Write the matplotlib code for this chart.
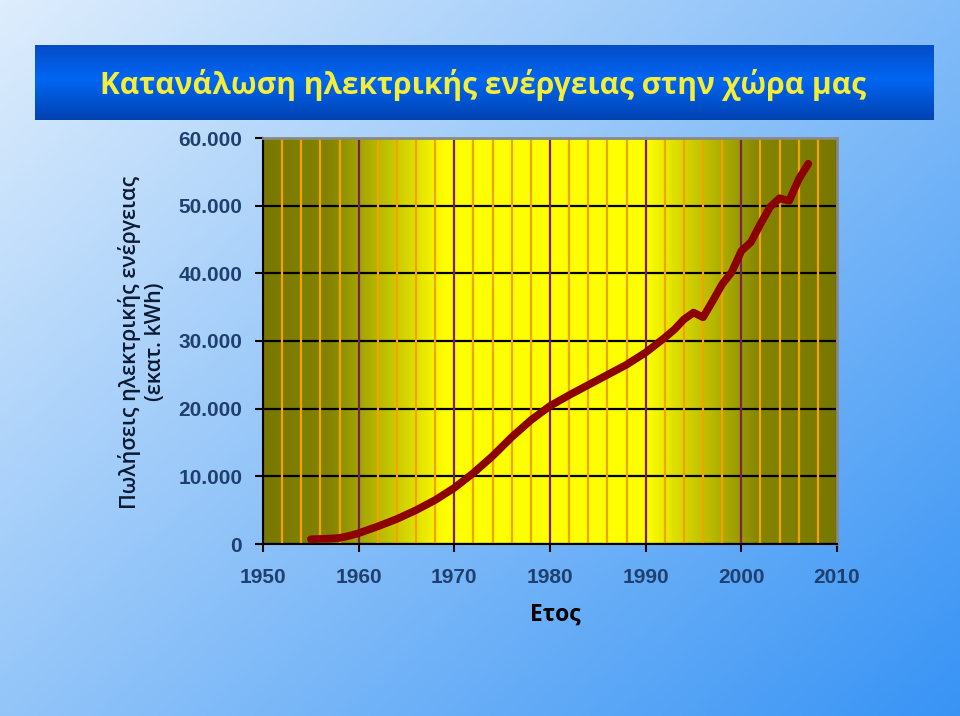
import numpy as np
import matplotlib.pyplot as plt

# annual sales (million kWh)
years = [1955, 1956, 1957, 1958, 1959, 1960, 1962, 1964, 1966, 1968, 1970,
         1972, 1974, 1976, 1978, 1980, 1982, 1984, 1986, 1988, 1990, 1992,
         1993, 1994, 1995, 1996, 1997, 1998, 1999, 2000, 2001, 2002, 2003,
         2004, 2005, 2006, 2007]
sales = [700, 750, 800, 900, 1200, 1600, 2600, 3700, 5000, 6500, 8300,
         10500, 13000, 15800, 18300, 20400, 22000, 23500, 25000, 26500, 28300, 30500,
         31700, 33200, 34200, 33500, 35900, 38400, 40200, 43300, 44600, 47300, 49800,
         51100, 50700, 53900, 56200]

xticks = [1950, 1960, 1970, 1980, 1990, 2000, 2010]
xminor = list(range(1950, 2011, 2))
yticks = [0, 10000, 20000, 30000, 40000, 50000, 60000]
ylabels = ["0", "10.000", "20.000", "30.000", "40.000", "50.000", "60.000"]

title = "Κατανάλωση ηλεκτρικής ενέργειας στην χώρα μας"
ylab = "Πωλήσεις ηλεκτρικής ενέργειας\n(εκατ. kWh)"
xlab = "Ετος"

W, H = 960, 716
fig = plt.figure(figsize=(W/100, H/100), dpi=100)

# slide background: diagonal light -> bright blue
bg = fig.add_axes([0, 0, 1, 1])
bg.set_xlim(0, W)
bg.set_ylim(H, 0)
bg.axis('off')
gx, gy = np.meshgrid(np.linspace(0, 1, 200), np.linspace(0, 1, 150))
t = (0.55*gx + 0.45*gy)[..., None]
c0 = np.array([0.87, 0.93, 0.99])
c1 = np.array([0.22, 0.58, 0.96])
bg.imshow(c0*(1-t) + c1*t, extent=(0, W, H, 0), aspect='auto', zorder=0)

# title banner
s = np.linspace(0, 1, 100)
stops = [0, 0.45, 1]
band = np.stack([np.interp(s, stops, [0.02, 0.0, 0.0]),
                 np.interp(s, stops, [0.30, 0.40, 0.26]),
                 np.interp(s, stops, [0.78, 0.95, 0.70])], axis=-1)[:, None, :]
bg.imshow(band, extent=(35, 934, 120, 45), aspect='auto', zorder=1)
bg.text(483, 85, title, ha='center', va='center', fontsize=21.5,
        color='#f2ee3a', family='Open Sans', weight='bold', zorder=2)

# main plot
ax = fig.add_axes([263/W, 172/H, 574/W, 406/H])
xs = np.linspace(1950, 2010, 300)
r = np.interp(xs, [1950, 1957, 1969, 1990, 2002, 2010], [0.47, 0.52, 1.0, 1.0, 0.52, 0.47])
ax.imshow(np.stack([r, r, np.zeros_like(r)], axis=-1)[None, :, :],
          extent=(1950, 2010, 0, 60000), aspect='auto', zorder=-2)

ax.plot(years, sales, color='#8c0000', lw=5.5, solid_capstyle='round',
        solid_joinstyle='round', zorder=5)

ax.set_xlim(1950, 2010)
ax.set_ylim(0, 60000)
ax.set_xticks(xticks)
ax.set_xticks(xminor, minor=True)
ax.set_yticks(yticks)
ax.set_yticklabels(ylabels)

ax.grid(which='minor', axis='x', color='#f2a300', lw=1.6)
ax.grid(which='major', axis='x', color='#7a1f58', lw=1.6)
ax.grid(which='major', axis='y', color='black', lw=1.6)
ax.yaxis.set_zorder(0.3)
ax.xaxis.set_zorder(0.5)

ax.tick_params(which='minor', length=0)
ax.tick_params(which='major', length=6, width=1.5, color='black',
               labelsize=15, labelcolor='#1f3f6e')
ax.tick_params(axis='x', pad=11)
ax.tick_params(axis='y', pad=9)
for lb in ax.get_xticklabels() + ax.get_yticklabels():
    lb.set_fontweight('bold')
    lb.set_family('Liberation Sans')

for side in ['left', 'bottom']:
    ax.spines[side].set_color('black')
    ax.spines[side].set_linewidth(1.5)
for side in ['top', 'right']:
    ax.spines[side].set_color('#8a8a80')
    ax.spines[side].set_linewidth(2)

fig.text(142/W, 1-342/H, ylab, rotation=90, ha='center', va='center',
         multialignment='center', fontsize=15.5, color='#0c1a33',
         family='Open Sans', weight='semibold', linespacing=1.25)
fig.text(555/W, 1-615/H, xlab, ha='center', va='center', fontsize=16.5,
         color='black', family='Open Sans', weight='bold')

fig.savefig('out.png', dpi=100)
